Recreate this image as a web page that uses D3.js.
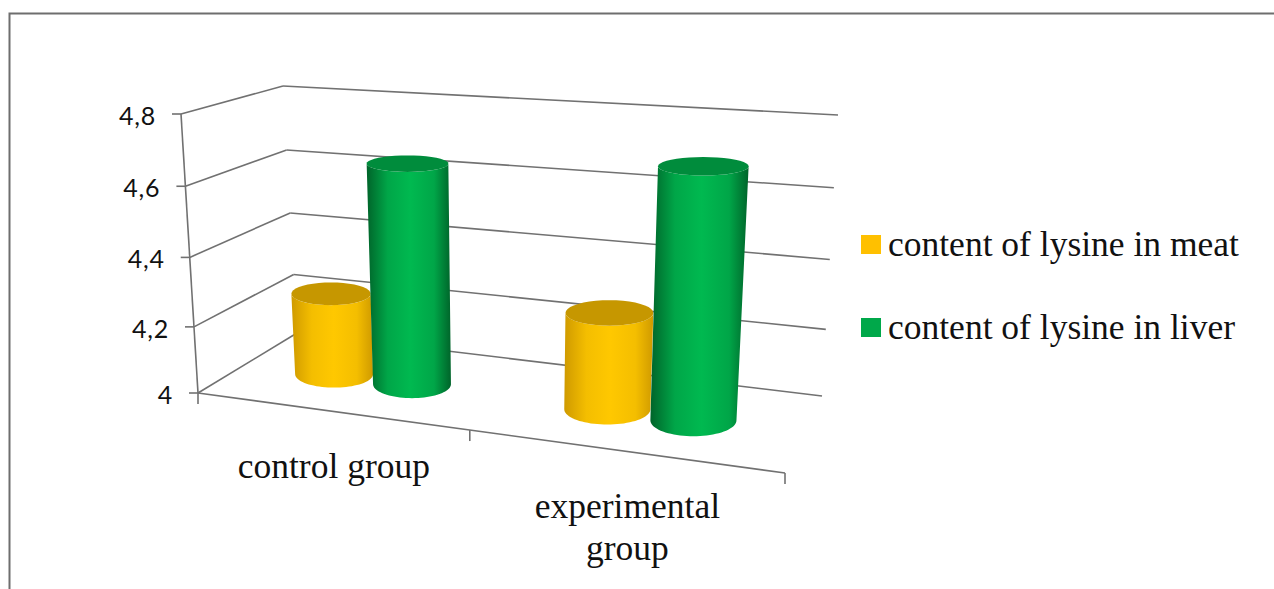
<!DOCTYPE html>
<html>
<head>
<meta charset="utf-8">
<script src="https://cdn.jsdelivr.net/npm/d3@7"></script>
<style>
  html, body { margin: 0; padding: 0; background: #fff; overflow: hidden; }
  svg { display: block; }
</style>
</head>
<body>
<svg id="chart" width="1274" height="589"></svg>
<script>
const categories = ["control group", "experimental group"];
const categoryLines = [["control group"], ["experimental", "group"]];
const seriesNames = ["content of lysine in meat", "content of lysine in liver"];
const meatValues = [4.25, 4.28];
const liverValues = [4.65, 4.70];
const valueTicks = [4, 4.2, 4.4, 4.6, 4.8];
const tickLabels = ["4", "4,2", "4,4", "4,6", "4,8"];

const seriesValues = [meatValues, liverValues];
const seriesColors = [
  { mid: "#ffc800", edge: "#cf9a00", top: "#c69700", key: "#ffc000" },
  { mid: "#00b950", edge: "#00642a", top: "#008c3c", key: "#00a84a" }
];

const svg = d3.select("#chart");
const defs = svg.append("defs");

// corners of the chart box on the page, floor and roof
const box = {
  floor: { fl: [198, 393], fr: [785, 473], bl: [297, 333], br: [822, 396] },
  roof: { fl: [181, 114], fr: [805, 156], bl: [283, 86], br: [838, 115] }
};

// the box is drawn in perspective so the scales are a bit uneven
const heightScale = d3.scaleLinear().domain(valueTicks).range([0, 0.237, 0.486, 0.741, 1]);
const groupEdge = d3.scaleLinear().domain([0, 1, 2]).range([0, 0.463, 1]);
const barEdge = d3.scaleLinear().domain([0, 1, 2]).range([0, 0.475, 1]);
const seriesBand = d3.scaleBand().domain(d3.range(seriesNames.length)).range([0, 1]).paddingInner(0).paddingOuter(0.695).align(0.44);

function lerp(a, b, t) {
  return [a[0] + (b[0] - a[0]) * t, a[1] + (b[1] - a[1]) * t];
}

// u along the category axis, d depth (0 front), h height, all 0..1
function project(u, d, h) {
  const floor = lerp(lerp(box.floor.fl, box.floor.fr, u), lerp(box.floor.bl, box.floor.br, u), d);
  const roof = lerp(lerp(box.roof.fl, box.roof.fr, u), lerp(box.roof.bl, box.roof.br, u), d);
  return lerp(floor, roof, h);
}

const line = d3.line();

function segment(a, b) {
  svg.append("path").attr("d", line([a, b])).attr("fill", "none").attr("stroke", "#717171").attr("stroke-width", 1.6);
}

// walls
valueTicks.forEach(function(v, i) {
  const h = heightScale(v);
  segment(project(0, 0, h), project(0, 1, h));
  segment(project(0, 1, h), project(1, 1, h));
  const front = project(0, 0, h);
  segment([front[0] - 9, front[1]], front);
  svg.append("text")
    .attr("x", front[0] - 25)
    .attr("y", front[1] + 11)
    .attr("text-anchor", "end")
    .attr("font-family", "Lato, sans-serif")
    .attr("font-size", 25)
    .attr("letter-spacing", 0.8)
    .attr("fill", "#111")
    .text(tickLabels[i]);
});
segment(project(0, 0, 0), project(0, 0, 1));
segment(project(0, 0, 0), project(1, 0, 0));

// category ticks
[0, 1, 2].forEach(function(g) {
  const p = project(groupEdge(g), 0, 0);
  segment(p, [p[0], p[1] + 11]);
});

// gradients
seriesColors.forEach(function(c, i) {
  const g = defs.append("linearGradient").attr("id", "cyl" + i);
  g.append("stop").attr("offset", "0%").attr("stop-color", c.edge);
  g.append("stop").attr("offset", "25%").attr("stop-color", d3.interpolateRgb(c.edge, c.mid)(0.78));
  g.append("stop").attr("offset", "52%").attr("stop-color", c.mid);
  g.append("stop").attr("offset", "80%").attr("stop-color", d3.interpolateRgb(c.edge, c.mid)(0.78));
  g.append("stop").attr("offset", "100%").attr("stop-color", c.edge);
});

// cylinders
const depthRadius = 0.215;
categories.forEach(function(cat, g) {
  const left = barEdge(g);
  const right = barEdge(g + 1);
  seriesNames.forEach(function(name, s) {
    const value = seriesValues[s][g];
    const center = left + (right - left) * (seriesBand(s) + seriesBand.bandwidth() / 2);
    const radius = (right - left) * seriesBand.bandwidth() / 2;
    const h = heightScale(value);
    // ellipses stay level on the page, only their size comes from the box
    const ring = function(level, from, to) {
      const c = project(center, 0.5, level);
      const rx = (project(center + radius, 0.5, level)[0] - project(center - radius, 0.5, level)[0]) / 2;
      const ry = (project(center, 0.5 - depthRadius, level)[1] - project(center, 0.5 + depthRadius, level)[1]) / 2;
      return d3.range(0, 41).map(function(i) {
        const t = from + (to - from) * i / 40;
        return [c[0] + rx * Math.cos(t), c[1] + ry * Math.sin(t)];
      });
    };
    svg.append("path")
      .attr("d", line(ring(0, 0, Math.PI).concat(ring(h, Math.PI, 0))) + "Z")
      .attr("fill", "url(#cyl" + s + ")");
    svg.append("path")
      .attr("d", line(ring(h, 0, Math.PI * 2)) + "Z")
      .attr("fill", seriesColors[s].top);
  });

  // category label
  const anchor = project((groupEdge(g) + groupEdge(g + 1)) / 2, 0, 0);
  categoryLines[g].forEach(function(text, i) {
    svg.append("text")
      .attr("x", anchor[0])
      .attr("y", anchor[1] + 66 + i * 42)
      .attr("text-anchor", "middle")
      .attr("font-family", "'Liberation Serif', serif")
      .attr("font-size", 35.5)
      .attr("fill", "#111")
      .text(text);
  });
});

// legend
const legendY = d3.scalePoint().domain(seriesNames).range([256, 339]);
seriesNames.forEach(function(name, s) {
  svg.append("rect")
    .attr("x", 861)
    .attr("y", legendY(name) - 21)
    .attr("width", 20)
    .attr("height", 19)
    .attr("fill", seriesColors[s].key);
  svg.append("text")
    .attr("x", 888)
    .attr("y", legendY(name))
    .attr("font-family", "'Liberation Serif', serif")
    .attr("font-size", 35.5)
    .attr("fill", "#111")
    .text(name);
});

// frame of the screenshot
svg.append("path")
  .attr("d", line([[9.5, 589], [9.5, 13.5], [1274, 13.5]]))
  .attr("fill", "none")
  .attr("stroke", "#6e6e6e")
  .attr("stroke-width", 2);
</script>
</body>
</html>
